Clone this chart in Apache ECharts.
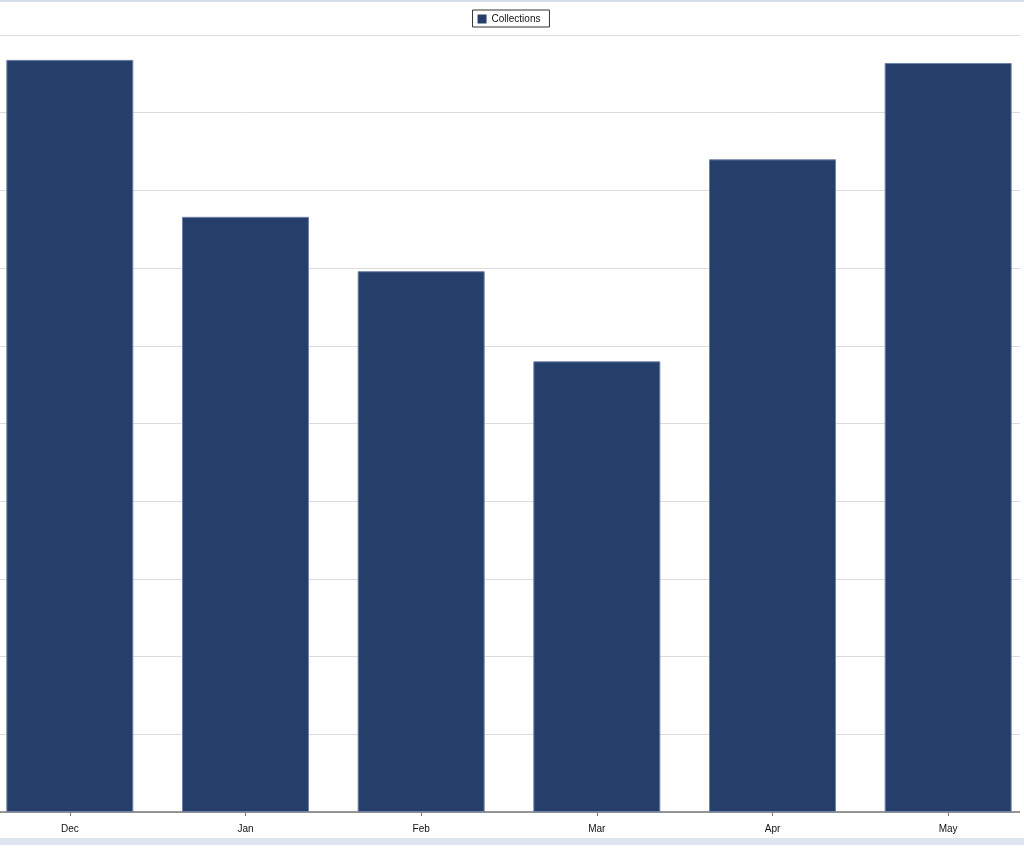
<!DOCTYPE html>
<html>
<head>
<meta charset="utf-8">
<script src="https://cdn.jsdelivr.net/npm/echarts@6/dist/echarts.min.js"></script>
<style>
html,body{margin:0;padding:0;background:#fff;overflow:hidden;}
#wrap{position:relative;width:1024px;height:850px;}
#clip{position:absolute;left:0;top:0;width:1020px;height:850px;overflow:hidden;}
#chart{position:absolute;left:-18px;top:0;width:1054px;height:850px;}
#topband{position:absolute;left:0;top:0;width:1024px;height:2px;background:#d3dded;}
#botband{position:absolute;left:0;top:838px;width:1024px;height:7px;background:#dde5ef;}
</style>
</head>
<body>
<div id="wrap">
<div id="clip"><div id="chart"></div></div>
<div id="topband"></div>
<div id="botband"></div>
</div>
<script>
const categories = ['Dec', 'Jan', 'Feb', 'Mar', 'Apr', 'May'];
const collections = [96.8, 76.6, 69.6, 58.0, 84.0, 96.4];
const seriesName = 'Collections';

const chart = echarts.init(document.getElementById('chart'), null, {renderer: 'canvas'});
chart.setOption({
  animation: false,
  legend: {
    data: [seriesName],
    top: 10,
    left: 'center',
    borderColor: '#333',
    borderWidth: 1,
    borderRadius: 0,
    padding: [4, 9, 3, 5],
    itemWidth: 9,
    itemHeight: 9,
    itemGap: 5,
    icon: 'rect',
    itemStyle: {borderWidth: 0},
    textStyle: {fontFamily: 'Liberation Sans, Arial, sans-serif', fontSize: 10, color: '#111'}
  },
  grid: {left: 0, right: 0, top: 35, bottom: 38, containLabel: false},
  xAxis: {
    type: 'category',
    data: categories,
    axisLine: {lineStyle: {color: '#777', width: 1.5}},
    axisTick: {show: true, alignWithLabel: true, length: 4, lineStyle: {color: '#777'}},
    axisLabel: {color: '#111', fontSize: 10, fontFamily: 'Liberation Sans, Arial, sans-serif', margin: 12}
  },
  yAxis: {
    type: 'value',
    min: 0,
    max: 100,
    interval: 10,
    axisLabel: {show: false},
    axisLine: {show: false},
    axisTick: {show: false},
    splitLine: {lineStyle: {color: '#dcdcdc', width: 1}}
  },
  series: [{
    name: seriesName,
    type: 'bar',
    data: collections,
    barWidth: 127,
    itemStyle: {color: '#263f6a', borderColor: '#6f82a8', borderWidth: 1}
  }]
});
</script>
</body>
</html>
